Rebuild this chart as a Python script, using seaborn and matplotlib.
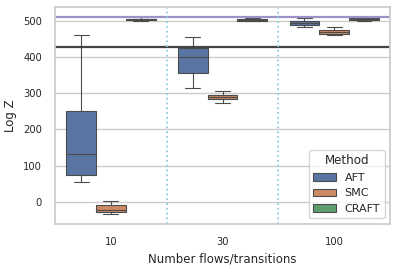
import pandas as pd
import matplotlib
matplotlib.use("Agg")
import matplotlib.pyplot as plt
import seaborn as sns

# five-number summaries: [low whisker, q1, median, q3, high whisker]
n_steps = ["10", "30", "100"]
methods = ["AFT", "SMC", "CRAFT"]

aft_10 = [56, 74, 133, 251, 461]
aft_30 = [314, 355, 399, 424, 454]
aft_100 = [484, 487, 494, 498, 507]

smc_10 = [-33, -27, -23, -8, 3]
smc_30 = [272, 283, 289, 294, 305]
smc_100 = [460, 464, 469, 474, 484]

craft_10 = [500, 503, 504, 505, 509]
craft_30 = [499, 500, 502, 505, 507]
craft_100 = [499, 501, 504, 507, 510]

upper_ref = 511   # purple reference line
lower_ref = 428   # black reference line


def build_df():
    rows = []
    groups = {
        "AFT": [aft_10, aft_30, aft_100],
        "SMC": [smc_10, smc_30, smc_100],
        "CRAFT": [craft_10, craft_30, craft_100],
    }
    for m in methods:
        for step, vals in zip(n_steps, groups[m]):
            for v in vals:
                rows.append({"Number flows/transitions": step, "Method": m, "Log Z": v})
    return pd.DataFrame(rows)


df = build_df()

sns.set_theme(style="whitegrid", font_scale=0.72)
fig = plt.figure(figsize=(3.96, 2.68), dpi=100)
ax = fig.add_axes([0.139, 0.164, 0.846, 0.81])

sns.boxplot(data=df, x="Number flows/transitions", y="Log Z", hue="Method",
            order=n_steps, hue_order=methods, whis=(0, 100), linewidth=0.8, ax=ax)

ax.axhline(upper_ref, color="#9d92c8", lw=1.6)
ax.axhline(lower_ref, color="#444444", lw=1.6)
for xv in [0.5, 1.5, 2.5]:
    ax.axvline(xv, color="#8ccfe0", ls=":", lw=1.3)

ax.set_xlim(-0.5, 2.5)
ax.set_ylim(-61, 538)
ax.tick_params(labelsize=7.2)
ax.set_xlabel("Number flows/transitions", fontsize=8.5)
ax.set_ylabel("Log Z", fontsize=8.5)
ax.legend(title="Method", loc="lower right", fontsize=8, title_fontsize=8.6)

fig.savefig("out.png", dpi=100)
